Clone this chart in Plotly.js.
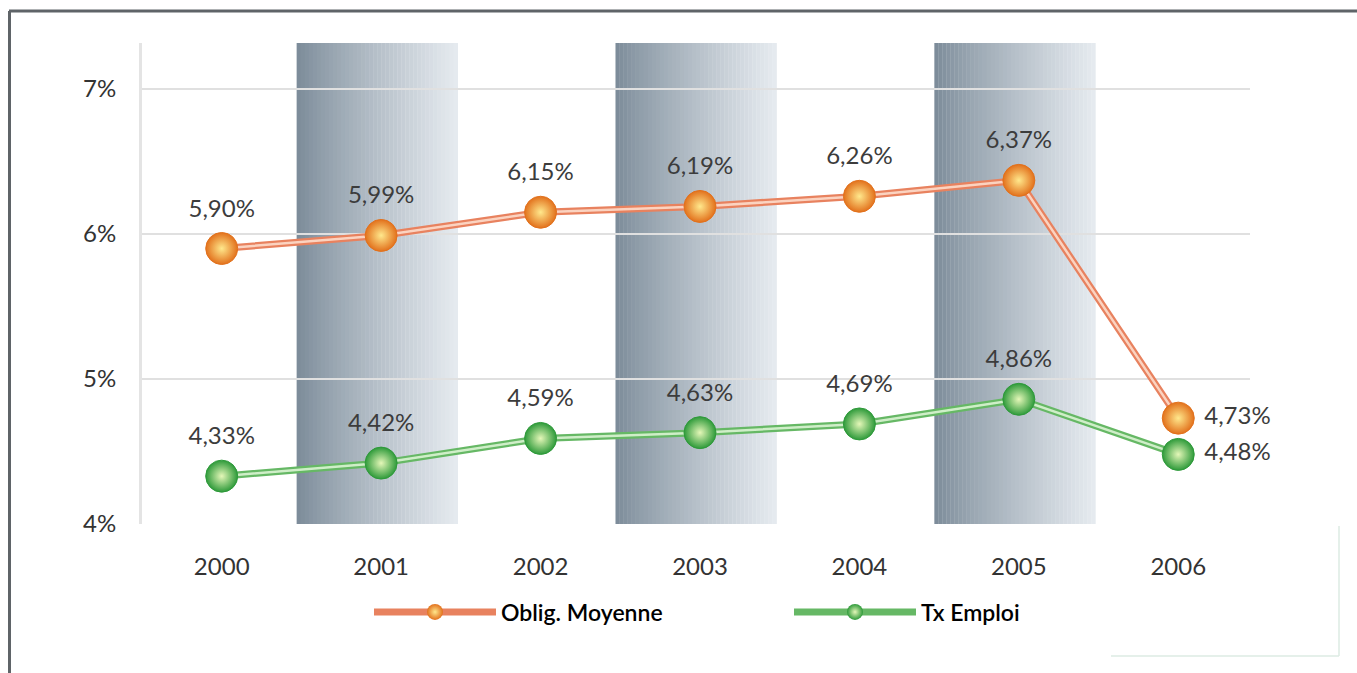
<!DOCTYPE html>
<html>
<head>
<meta charset="utf-8">
<script src="https://cdn.plot.ly/plotly-3.0.1.min.js"></script>
<style>
  html, body { margin: 0; padding: 0; background: #ffffff; }
  #chart { width: 1357px; height: 673px; }
</style>
</head>
<body>
<div id="chart"></div>
<script>
// ---- data ----
const years = [2000, 2001, 2002, 2003, 2004, 2005, 2006];
const obligMoyenne = [5.90, 5.99, 6.15, 6.19, 6.26, 6.37, 4.73];
const txEmploi = [4.33, 4.42, 4.59, 4.63, 4.69, 4.86, 4.48];
const shadedYears = [2001, 2003, 2005];
const yTicks = [4, 5, 6, 7];
const yTickLabels = ['4%', '5%', '6%', '7%'];
const seriesNames = ['Oblig. Moyenne', 'Tx Emploi'];

// ---- layout geometry (pixels) ----
const W = 1357, H = 673;
const L = 142, R = 1250, T = 43, B = 524;
const px2x = px => (px - L) / (R - L);
const px2y = py => (B - py) / (B - T);

const fmt = v => v.toFixed(2).replace('.', ',') + '%';
const FONT = 'Lato, "Open Sans", sans-serif';

function seriesTraces(name, values, c) {
  const n = values.length;
  const pos = values.map((v, i) => (i === n - 1 ? 'middle right' : 'top center'));
  return [
    { // outer line + legend
      x: years, y: values, name: name, type: 'scatter', mode: 'lines+markers',
      line: { color: c.edge, width: 7 },
      marker: { size: 30, color: c.outer, gradient: { type: 'radial', color: c.center }, line: { width: 0 } },
      hoverinfo: 'skip', showlegend: true
    },
    { // inner light line
      x: years, y: values, type: 'scatter', mode: 'lines',
      line: { color: c.inner, width: 2.5 }, hoverinfo: 'skip', showlegend: false
    },
    { // spheres on top
      x: years, y: values, type: 'scatter', mode: 'markers',
      marker: { size: 32, color: c.outer, gradient: { type: 'radial', color: c.center }, line: { width: 1, color: c.outer } },
      hoverinfo: 'skip', showlegend: false
    },
    { // value labels
      x: years, y: values, type: 'scatter', mode: 'markers+text',
      marker: { size: 40, color: 'rgba(0,0,0,0)' },
      text: values.map(fmt), textposition: pos,
      textfont: { family: FONT, size: 24, color: '#3c3c3c' },
      cliponaxis: false, hoverinfo: 'skip', showlegend: false
    }
  ];
}

const orange = { edge: '#e8825f', inner: '#fbd3c0', outer: '#e2711c', center: '#ffe88c' };
const green = { edge: '#66b865', inner: '#cfeec8', outer: '#2e9a3a', center: '#e4f7b8' };

const data = [
  ...seriesTraces(seriesNames[0], obligMoyenne, orange),
  ...seriesTraces(seriesNames[1], txEmploi, green)
];

// ---- shaded year bands (gradient made of thin strips) ----
const shapes = [];
const N = 40;
const c0 = [122, 138, 152], c1 = [230, 235, 240];
shadedYears.forEach(yr => {
  const x0 = yr - 0.53, span = 1.01;
  for (let i = 0; i < N; i++) {
    const t = Math.pow((i + 0.5) / N, 0.85);
    const col = c0.map((a, k) => Math.round(a + (c1[k] - a) * t));
    shapes.push({
      type: 'rect', xref: 'x', yref: 'paper', layer: 'below',
      x0: x0 + span * i / N, x1: x0 + span * (i + 1) / N + 0.002, y0: 0, y1: 1,
      fillcolor: `rgb(${col.join(',')})`, line: { width: 0 }
    });
  }
});

// ---- outer frame ----
shapes.push({ type: 'line', xref: 'paper', yref: 'paper', x0: px2x(9), x1: px2x(1360), y0: px2y(11), y1: px2y(11), line: { color: '#5f6468', width: 3 } });
shapes.push({ type: 'line', xref: 'paper', yref: 'paper', x0: px2x(9.5), x1: px2x(9.5), y0: px2y(11), y1: px2y(680), line: { color: '#5f6468', width: 3 } });
// faint box bottom-right
shapes.push({ type: 'line', xref: 'paper', yref: 'paper', x0: px2x(1339), x1: px2x(1339), y0: px2y(526), y1: px2y(656), line: { color: '#dcebe3', width: 1.5 } });
shapes.push({ type: 'line', xref: 'paper', yref: 'paper', x0: px2x(1111), x1: px2x(1339), y0: px2y(656), y1: px2y(656), line: { color: '#dcebe3', width: 1.5 } });

const layout = {
  width: W, height: H,
  margin: { l: L, r: W - R, t: T, b: H - B, pad: 0 },
  paper_bgcolor: '#ffffff', plot_bgcolor: 'rgba(0,0,0,0)',
  showlegend: true,
  legend: {
    orientation: 'h', x: px2x(789), xanchor: 'center', y: px2y(612), yanchor: 'middle',
    font: { family: FONT, size: 23, color: '#000', weight: 600 },
    itemwidth: 122, entrywidth: 283, bgcolor: 'rgba(0,0,0,0)'
  },
  xaxis: {
    range: [1999.5, 2006.45], tickvals: years, ticktext: years.map(String),
    showgrid: false, zeroline: false, showline: false,
    ticks: 'outside', ticklen: 21, tickcolor: 'rgba(0,0,0,0)',
    tickfont: { family: FONT, size: 24, color: '#333' }, fixedrange: true
  },
  yaxis: {
    range: [4, 4 + (B - T) / 145], tickvals: yTicks, ticktext: yTickLabels,
    showgrid: true, gridcolor: '#e0e0e0', gridwidth: 2, zeroline: false,
    showline: true, linecolor: '#e4e4e4', linewidth: 3,
    ticks: 'outside', ticklen: 18, tickcolor: 'rgba(0,0,0,0)',
    tickfont: { family: FONT, size: 24, color: '#333' }, fixedrange: true
  },
  shapes: shapes
};

Plotly.newPlot('chart', data, layout, { displayModeBar: false, staticPlot: true });
</script>
</body>
</html>
